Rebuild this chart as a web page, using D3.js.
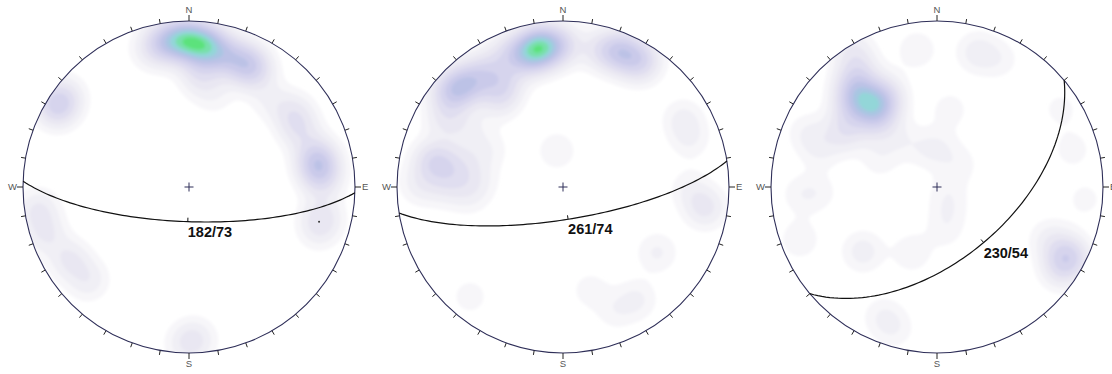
<!DOCTYPE html>
<html>
<head>
<meta charset="utf-8">
<script src="https://cdn.jsdelivr.net/npm/d3@7/dist/d3.min.js"></script>
<style>
  html, body { margin: 0; padding: 0; background: #ffffff; }
  svg { display: block; }
</style>
</head>
<body>
<svg id="chart" width="1112" height="374"></svg>
<script>
// Lower-hemisphere equal-area (Schmidt) nets: pole density contours and one great circle each.

// Great-circle planes, as labelled: azimuth / dip
const planeAzimuths = [182, 261, 230];
const planeDips = [73, 74, 54];
// first label gives the dip direction, the other two give the strike (dip direction = strike - 90)
const planeLabelKinds = ["dipdir", "strike", "strike"];

// Poles per net: [trend, plunge, weight]
const polesA = [
  [358.4, 12.5, 0.75], [6.4, 15, 0.75], [350.6, 12.5, 0.45], [344.1, 15.5, 0.12],
  [15.1, 18.5, 0.4], [24.3, 19, 0.4], [29.4, 20.5, 0.25],
  [5.4, 30, 0.15], [5.9, 35.5, 0.1], [15.8, 42, 0.08],
  [301.5, 7.5, 0.42], [306.6, 8, 0.15],
  [81, 22, 0.4], [75.9, 22, 0.25], [87, 21, 0.2],
  [54.6, 24, 0.2], [62.8, 26, 0.2], [43, 29, 0.1],
  [102.6, 19, 0.2], [108.4, 19, 0.12],
  [261.3, 9, 0.2], [251.6, 10, 0.18], [238.5, 17, 0.2], [227.4, 18.5, 0.16],
  [177.8, 9, 0.18], [181.5, 5.5, 0.1]
];
const polesB = [
  [350.6, 16, 0.85], [344, 18.5, 0.4], [358.8, 15.5, 0.35], [338, 14, 0.2],
  [23, 12.5, 0.5], [31.5, 12, 0.4], [15, 15.5, 0.2],
  [314.5, 14.5, 0.4], [309.3, 12.5, 0.3], [320.7, 17.5, 0.3],
  [330, 29, 0.25], [324.2, 35, 0.18], [328, 17.5, 0.2],
  [281, 26, 0.25], [281.7, 19.5, 0.18], [276.9, 37, 0.14],
  [299.8, 19.5, 0.18], [301.7, 34, 0.1], [275, 48.5, 0.08], [297, 49, 0.08],
  [271, 15, 0.14], [265.4, 43, 0.1], [270, 30, 0.12], [287, 40, 0.08],
  [98.3, 14.5, 0.22], [91, 24.5, 0.1], [60.6, 18, 0.13], [69.5, 19.5, 0.1],
  [350.4, 72, 0.1],
  [124.9, 31.5, 0.12], [146.7, 20, 0.12], [157.3, 20, 0.08], [165.2, 36, 0.08],
  [220.3, 14.5, 0.08]
];
const polesC = [
  [320.4, 34.5, 0.42], [320, 24, 0.4], [323.7, 41.5, 0.35], [326, 16, 0.2], [328.6, 3.5, 0.15],
  [330.7, 36, 0.25], [311.7, 30.5, 0.2], [315.2, 46, 0.15],
  [300.6, 35.5, 0.22],
  [292.7, 16.5, 0.1], [287.8, 27, 0.1], [267.3, 30, 0.07],
  [117.9, 11.5, 0.42], [123.9, 11.5, 0.18], [114.9, 26, 0.13],
  [16.6, 16.5, 0.15], [351.7, 17.5, 0.1],
  [9.5, 51, 0.08], [4.6, 71, 0.08], [152.9, 78, 0.08], [169.3, 68, 0.07],
  [228.9, 40.5, 0.15], [200.9, 55, 0.1],
  [202.6, 16.5, 0.1], [249, 12.5, 0.1],
  [74.6, 16.5, 0.08], [57.8, 13, 0.07],
  [322.1, 60, 0.08], [342.3, 70.5, 0.07], [45.6, 74, 0.07], [100.9, 84.5, 0.06],
  [295.8, 58.5, 0.08], [266.9, 18.5, 0.08], [196.4, 11.5, 0.08], [26.3, 15.5, 0.08],
  [94.8, 11.5, 0.07]
];
const poleSets = [polesA, polesB, polesC];

// Single plotted poles: [net index, trend, plunge]
const singlePoles = [[0, 105, 20]];

// Contour levels and fills
const densityLevels = [0.05, 0.11, 0.19, 0.29, 0.41, 0.54, 0.67, 0.80, 0.92, 1.04, 1.16];
const levelColors = ["#f7f6f9", "#f0eff5", "#e9e7f2", "#e0def0", "#d6d4ed", "#cacaea",
                     "#bcc2e6", "#a9c6e2", "#93d6d8", "#78e0aa", "#5ce27c"];

const tickAzimuths = d3.range(0, 360, 10);
const cardinals = [["N", 0], ["E", 90], ["S", 180], ["W", 270]];

// ---- layout ----
const R = 166;
const cy = 187;
const centerX = d3.scalePoint().domain(d3.range(3)).range([189, 937]);
const kernel = 14;     // smoothing radius in px
const step = 2;        // density grid spacing in px

const svg = d3.select("#chart");
const defs = svg.append("defs");
defs.append("filter").attr("id", "soft")
  .attr("x", "-5%").attr("y", "-5%").attr("width", "110%").attr("height", "110%")
  .append("feGaussianBlur").attr("stdDeviation", 1.4);

const rad = Math.PI / 180;
// equal-area radius (unit net) for a plunge
const eqArea = pl => Math.SQRT2 * Math.sin((90 - pl) / 2 * rad);

d3.range(3).forEach(i => {
  const cx = centerX(i);
  const x = d3.scaleLinear().domain([-1, 1]).range([cx - R, cx + R]);
  const y = d3.scaleLinear().domain([-1, 1]).range([cy + R, cy - R]);
  const project = (trend, plunge) => {
    const r = eqArea(plunge);
    return [x(r * Math.sin(trend * rad)), y(r * Math.cos(trend * rad))];
  };

  const g = svg.append("g");

  // clip to net
  defs.append("clipPath").attr("id", "net" + i)
    .append("circle").attr("cx", cx).attr("cy", cy).attr("r", R);

  // density grid
  const x0 = cx - R - 4, y0 = cy - R - 4;
  const n = Math.ceil((2 * R + 8) / step), m = n;
  const pts = poleSets[i].map(p => { const q = project(p[0], p[1]); return [q[0], q[1], p[2]]; });
  const values = new Float64Array(n * m);
  const s2 = 2 * kernel * kernel;
  for (let jy = 0; jy < m; jy++) {
    const py = y0 + (jy + 0.5) * step;
    for (let ix = 0; ix < n; ix++) {
      const px = x0 + (ix + 0.5) * step;
      let v = 0;
      for (const p of pts) {
        const dx = px - p[0], dy = py - p[1];
        const d2 = dx * dx + dy * dy;
        if (d2 < 16 * s2) v += p[2] * Math.exp(-d2 / s2);
      }
      values[jy * n + ix] = v;
    }
  }
  const contours = d3.contours().size([n, m]).thresholds(densityLevels)(values);
  const path = d3.geoPath(d3.geoIdentity().scale(step).translate([x0, y0]));
  const color = d3.scaleOrdinal().domain(densityLevels).range(levelColors);

  g.append("g").attr("clip-path", `url(#net${i})`)
    .append("g").attr("filter", "url(#soft)")
    .selectAll("path").data(contours).join("path")
    .attr("d", path)
    .attr("fill", d => color(d.value))
    .attr("stroke", "none");

  // primitive circle
  g.append("circle").attr("cx", cx).attr("cy", cy).attr("r", R)
    .attr("fill", "none").attr("stroke", "#2e2e58").attr("stroke-width", 1.1);

  // 10-degree ticks
  g.selectAll("line.tick").data(tickAzimuths).join("line")
    .attr("class", "tick")
    .attr("x1", a => x(Math.sin(a * rad)))
    .attr("y1", a => y(Math.cos(a * rad)))
    .attr("x2", a => x((1 + (a % 90 === 0 ? 6 : 4.5) / R) * Math.sin(a * rad)))
    .attr("y2", a => y((1 + (a % 90 === 0 ? 6 : 4.5) / R) * Math.cos(a * rad)))
    .attr("stroke", "#222").attr("stroke-width", 1);

  // cardinal labels
  g.selectAll("text.card").data(cardinals).join("text")
    .attr("class", "card")
    .attr("x", d => d[0] === "E" ? x(1) + 7 : d[0] === "W" ? x(-1) - 6 : cx)
    .attr("y", d => d[0] === "N" ? y(1) - 8.5 : d[0] === "S" ? y(-1) + 14 : cy + 3.3)
    .attr("text-anchor", d => d[0] === "E" ? "start" : d[0] === "W" ? "end" : "middle")
    .attr("font-family", "'Liberation Sans', Arial, sans-serif")
    .attr("font-size", 9.5).attr("fill", "#555")
    .text(d => d[0]);

  // centre cross
  g.append("path")
    .attr("d", `M${cx - 4.5},${cy}H${cx + 4.5}M${cx},${cy - 4.5}V${cy + 4.5}`)
    .attr("stroke", "#2e2e58").attr("stroke-width", 1);

  // single poles
  singlePoles.filter(p => p[0] === i).forEach(p => {
    const q = project(p[1], p[2]);
    g.append("circle").attr("cx", q[0]).attr("cy", q[1]).attr("r", 1).attr("fill", "#333");
  });

  // great circle of the plane
  const dipDir = planeLabelKinds[i] === "strike" ? (planeAzimuths[i] - 90 + 360) % 360 : planeAzimuths[i];
  const dip = planeDips[i];
  const dd = dipDir * rad, dp = dip * rad, sa = (dipDir - 90) * rad;
  const sVec = [Math.cos(sa), Math.sin(sa), 0];
  const dVec = [Math.cos(dp) * Math.cos(dd), Math.cos(dp) * Math.sin(dd), Math.sin(dp)];
  const arc = d3.range(0, 180.5, 2).map(t => {
    const c = Math.cos(t * rad), s = Math.sin(t * rad);
    const vN = c * sVec[0] + s * dVec[0], vE = c * sVec[1] + s * dVec[1], vD = Math.max(0, s * dVec[2]);
    const trend = Math.atan2(vE, vN) / rad;
    const plunge = Math.asin(Math.min(1, vD)) / rad;
    return project(trend, plunge);
  });
  g.append("path").attr("d", d3.line()(arc))
    .attr("fill", "none").attr("stroke", "#111").attr("stroke-width", 1.2);

  // mark at the dip direction and the label
  const mp = project(dipDir, dip);
  const ux = (cx - mp[0]), uy = (cy - mp[1]), ul = Math.hypot(ux, uy) || 1;
  g.append("line")
    .attr("x1", mp[0]).attr("y1", mp[1])
    .attr("x2", mp[0] + ux / ul * 4).attr("y2", mp[1] + uy / ul * 4)
    .attr("stroke", "#111").attr("stroke-width", 1);
  g.append("text")
    .attr("x", mp[0]).attr("y", mp[1] + 15)
    .attr("font-family", "'Liberation Sans', Arial, sans-serif")
    .attr("font-weight", "bold").attr("font-size", 14.5).attr("fill", "#111")
    .text(planeAzimuths[i] + "/" + planeDips[i]);
});
</script>
</body>
</html>
